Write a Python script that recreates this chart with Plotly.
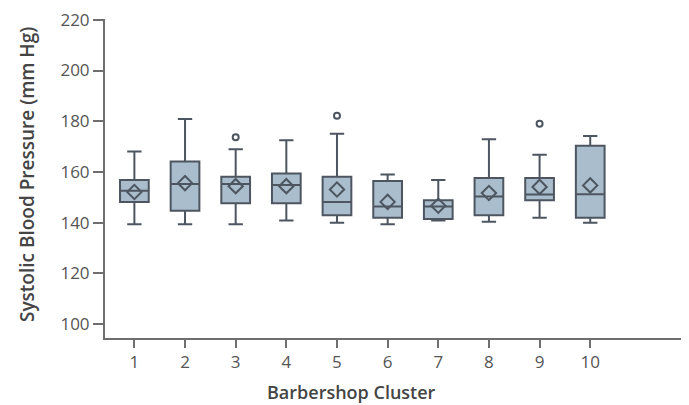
import plotly.graph_objects as go

clusters = [1, 2, 3, 4, 5, 6, 7, 8, 9, 10]
lower_whisker = [139.4, 139.4, 139.4, 140.9, 140.0, 139.4, 140.9, 140.4, 142.0, 140.0]
q1 = [148.2, 144.7, 147.7, 147.7, 142.9, 142.0, 141.5, 142.9, 148.9, 142.0]
median = [152.6, 155.3, 155.3, 154.9, 148.2, 146.4, 146.4, 150.3, 151.1, 151.2]
q3 = [156.8, 164.1, 158.1, 159.4, 158.1, 156.4, 148.9, 157.6, 157.6, 170.3]
upper_whisker = [168.1, 180.9, 169.0, 172.5, 175.1, 159.0, 156.8, 172.9, 166.8, 174.2]
means = [152.1, 155.6, 154.4, 154.4, 153.1, 148.2, 146.7, 151.7, 154.1, 154.7]
outlier_x = [3, 5, 9]
outlier_y = [173.7, 182.2, 179.0]

y_ticks = [100, 120, 140, 160, 180, 200, 220]

edge = "#4d5660"
fill = "#a9bdcc"
axis_col = "#6e6e6e"
font_fam = "Open Sans, Lato, sans-serif"

# page has an 8px body margin; figure coordinates are offset by it
OFF = 8
W, H = 689 - OFF, 405 - OFF
L, T = 105 - OFF, 15 - OFF
PB = 338 - OFF  # plot bottom in figure px
PH = PB - T
PW = W - L

fig = go.Figure()
fig.add_trace(go.Box(
    x=clusters, q1=q1, median=median, q3=q3,
    lowerfence=lower_whisker, upperfence=upper_whisker,
    fillcolor=fill, line=dict(color=edge, width=2),
    whiskerwidth=0.5, boxpoints=False, showlegend=False, hoverinfo="skip",
))
fig.add_trace(go.Scatter(
    x=clusters, y=means, mode="markers",
    marker=dict(symbol="diamond-open", size=11, color=edge, line=dict(width=2, color=edge)),
    showlegend=False,
))
fig.add_trace(go.Scatter(
    x=outlier_x, y=outlier_y, mode="markers",
    marker=dict(symbol="circle-open", size=6, color=edge, line=dict(width=2, color=edge)),
    showlegend=False,
))

fig.update_layout(
    width=W, height=H,
    margin=dict(l=L, r=0, t=T, b=H - PB),
    paper_bgcolor="white", plot_bgcolor="white",
    boxgap=0.19,
    font=dict(family=font_fam, color="#444"),
    xaxis=dict(
        range=[0.42, 11.95], tickmode="array", tickvals=clusters,
        ticktext=[str(c) for c in clusters],
        showline=True, linecolor=axis_col, linewidth=2,
        ticks="outside", ticklen=8, tickwidth=1.5, tickcolor=axis_col,
        showgrid=False, zeroline=False,
        tickfont=dict(size=17, color="#555"),
    ),
    yaxis=dict(
        range=[94.55, 220.3], tickmode="array", tickvals=y_ticks,
        showline=True, linecolor=axis_col, linewidth=2,
        ticks="outside", ticklen=10, tickwidth=1.5, tickcolor=axis_col,
        showgrid=False, zeroline=False, ticklabeloverflow="allow",
        tickfont=dict(size=17, color="#555"),
    ),
    annotations=[
        dict(text="Barbershop Cluster", xref="paper", yref="paper",
             x=(351 - 105) / PW, y=-(393 - 338) / PH, xanchor="center", yanchor="middle",
             showarrow=False, font=dict(size=18, color="#444", family=font_fam, weight=600)),
        dict(text="Systolic Blood Pressure (mm Hg)", xref="paper", yref="paper",
             x=-(105 - 27) / PW, y=(338 - 173) / PH, xanchor="center", yanchor="middle",
             textangle=-90, showarrow=False,
             font=dict(size=19, color="#444", family=font_fam, weight=600)),
    ],
)

fig.write_html("out.html")
